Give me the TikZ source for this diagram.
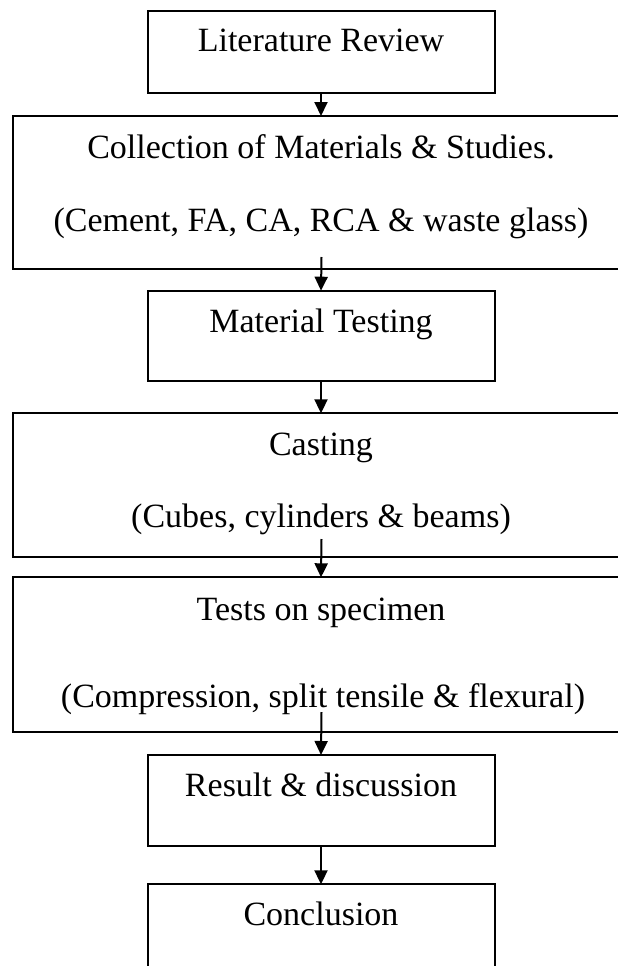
\documentclass[tikz,border=0pt]{standalone}
\usepackage{fontspec}
\setmainfont{Liberation Serif}
\usetikzlibrary{arrows.meta}
\tikzset{
  stage/.style={draw, line width=2pt, minimum width=347pt, inner sep=0pt, outer sep=0pt, anchor=north},
  widestage/.style={stage, minimum width=617pt},
  caption/.style={anchor=base, inner sep=0pt, font=\fontsize{34}{40}\selectfont},
  flow/.style={line width=2pt, -{Triangle[length=14pt,width=13pt]}}
}
\begin{document}
\begin{tikzpicture}[x=1pt,y=1pt]
\useasboundingbox (0,0) rectangle (618,-966);
\clip (0,0) rectangle (618,-966);
\node[stage, minimum height=82.6pt] (lit) at (321,-10.7) {};
\node[widestage, minimum height=153.3pt] (coll) at (321,-116) {};
\node[stage, minimum height=90.3pt] (mat) at (321,-290.7) {};
\node[widestage, minimum height=144pt] (cast) at (321,-413.3) {};
\node[widestage, minimum height=154.4pt] (test) at (321,-577.3) {};
\node[stage, minimum height=90.7pt] (res) at (321,-755) {};
\node[stage, minimum height=95pt] (conc) at (321,-884.3) {};
\node[caption] (litA) at (321,-51.7) {Literature Review};
\node[caption] (collA) at (321,-158) {Collection of Materials \& Studies.};
\node[caption] (collB) at (321,-231) {(Cement, FA, CA, RCA \& waste glass)};
\node[caption] (matA) at (321,-332) {Material Testing};
\node[caption] (castA) at (321,-455) {Casting};
\node[caption] (castB) at (321,-527) {(Cubes, cylinders \& beams)};
\node[caption] (testA) at (321,-620) {Tests on specimen};
\node[caption] (testB) at (323,-707) {(Compression, split tensile \& flexural)};
\node[caption] (resA) at (321,-796.5) {Result \& discussion};
\node[caption] (concA) at (321,-925.5) {Conclusion};
\coordinate (collOut) at (321.5,-257);
\coordinate (castOut) at (321.5,-539);
\coordinate (testOut) at (321.5,-712);
\draw[flow] (lit.south) -- (coll.north);
\draw[flow] (collOut) -- (mat.north);
\draw[flow] (mat.south) -- (cast.north);
\draw[flow] (castOut) -- (test.north);
\draw[flow] (testOut) -- (res.north);
\draw[flow] (res.south) -- (conc.north);
\end{tikzpicture}
\end{document}
